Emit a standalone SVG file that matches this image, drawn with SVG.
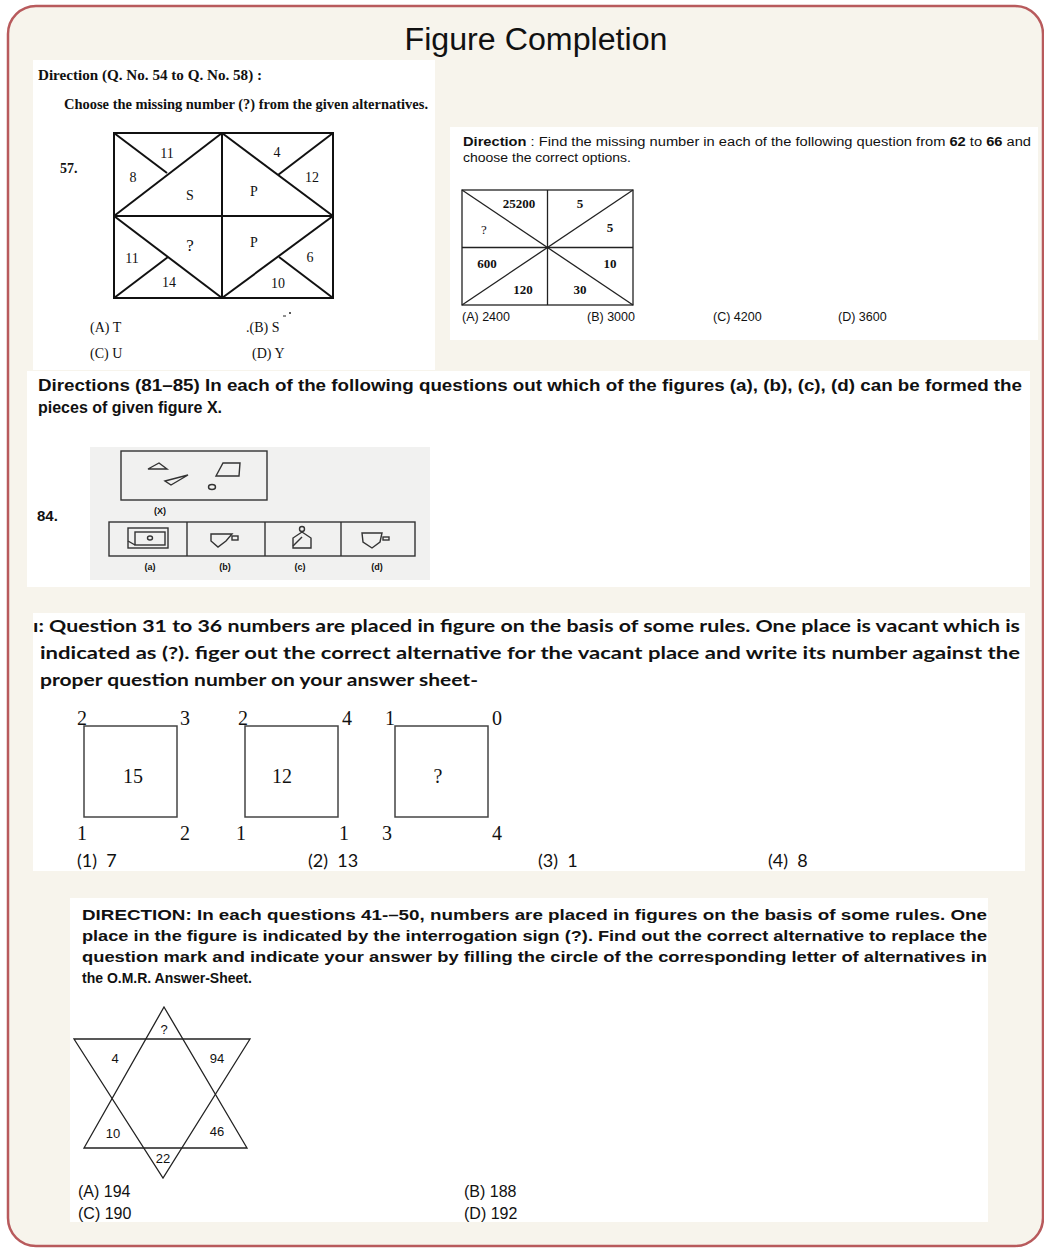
<svg xmlns="http://www.w3.org/2000/svg" width="1044" height="1249" viewBox="0 0 1044 1249">
<style>
.panel{fill:#ffffff}
.ser{font-family:"Liberation Serif","DejaVu Serif",serif;fill:#111}
.serb{font-family:"Liberation Serif","DejaVu Serif",serif;font-weight:bold;fill:#111}
.sans{font-family:"Liberation Sans",Arial,sans-serif;fill:#111}
.sansb{font-family:"Liberation Sans",Arial,sans-serif;font-weight:bold;fill:#111}
.cal{font-family:Lato,"Open Sans",sans-serif;fill:#111}
.calb{font-family:Lato,"Open Sans",sans-serif;font-weight:bold;fill:#111}
.ln{stroke:#111;stroke-width:2;fill:none}
.ln1{stroke:#222;stroke-width:1.3;fill:none}
.sq{stroke:#444;stroke-width:1.5;fill:none}
.scan{stroke:#333;stroke-width:1.4;fill:none}
.mid{text-anchor:middle}
</style>
<rect x="8" y="6" width="1035" height="1240" rx="28" ry="28" fill="#f7f4ec" stroke="#b85a5c" stroke-width="2.5"/>
<text class="sans mid" x="536" y="50" font-size="31" textLength="263" lengthAdjust="spacingAndGlyphs">Figure Completion</text>

<!-- Panel: Q57 -->
<g id="q57">
<rect class="panel" x="33" y="60" width="402" height="310"/>
<text class="serb" x="38" y="80" font-size="14.5" textLength="224" lengthAdjust="spacingAndGlyphs">Direction (Q. No. 54  to Q. No. 58) :</text>
<text class="serb" x="64" y="109" font-size="14.5" textLength="364" lengthAdjust="spacingAndGlyphs">Choose the missing number (?) from the given alternatives.</text>
<text class="serb" x="60" y="173" font-size="14">57.</text>
<rect class="ln" x="114" y="133" width="219" height="165"/>
<line class="ln" x1="222" y1="133" x2="222" y2="298"/>
<line class="ln" x1="114" y1="216" x2="333" y2="216"/>
<line class="ln" x1="114" y1="216" x2="222" y2="133"/>
<line class="ln" x1="114" y1="133" x2="167" y2="173"/>
<line class="ln" x1="222" y1="133" x2="333" y2="216"/>
<line class="ln" x1="333" y1="133" x2="278" y2="175"/>
<line class="ln" x1="114" y1="216" x2="222" y2="298"/>
<line class="ln" x1="114" y1="298" x2="168" y2="257"/>
<line class="ln" x1="222" y1="298" x2="333" y2="216"/>
<line class="ln" x1="333" y1="298" x2="279" y2="257"/>
<g class="ser mid" font-size="14">
<text x="167" y="158">11</text>
<text x="133" y="182">8</text>
<text x="190" y="200">S</text>
<text x="277" y="157">4</text>
<text x="312" y="182">12</text>
<text x="254" y="196">P</text>
<text x="190" y="251" font-size="17">?</text>
<text x="254" y="247">P</text>
<text x="132" y="263">11</text>
<text x="169" y="287">14</text>
<text x="278" y="288">10</text>
<text x="310" y="262">6</text>
</g>
<text class="ser" x="90" y="332" font-size="14">(A) T</text>
<text class="ser" x="246" y="332" font-size="14">.(B) S</text>
<line x1="283" y1="316" x2="286" y2="316" stroke="#222" stroke-width="1"/>
<circle cx="290" cy="313" r="1" fill="#222"/>
<text class="ser" x="90" y="358" font-size="14">(C) U</text>
<text class="ser" x="252" y="358" font-size="14">(D) Y</text>
</g>

<!-- Panel: Q62-66 -->
<g id="q62">
<rect class="panel" x="450" y="127" width="588" height="213"/>
<text class="sans" x="463" y="146" font-size="12.5" textLength="568" lengthAdjust="spacingAndGlyphs"><tspan font-weight="bold">Direction</tspan> : Find the missing number in each of the following question from <tspan font-weight="bold">62</tspan> to <tspan font-weight="bold">66</tspan> and</text>
<text class="sans" x="463" y="162" font-size="12.5" textLength="168" lengthAdjust="spacingAndGlyphs">choose the correct options.</text>
<rect class="ln1" x="462" y="190" width="171" height="115"/>
<line class="ln1" x1="547.5" y1="190" x2="547.5" y2="305"/>
<line class="ln1" x1="462" y1="247.5" x2="633" y2="247.5"/>
<line class="ln1" x1="462" y1="190" x2="633" y2="305"/>
<line class="ln1" x1="462" y1="305" x2="633" y2="190"/>
<g class="serb mid" font-size="13">
<text x="519" y="208">25200</text>
<text x="580" y="208">5</text>
<text x="484" y="234" font-weight="normal">?</text>
<text x="610" y="232">5</text>
<text x="487" y="268">600</text>
<text x="610" y="268">10</text>
<text x="523" y="294">120</text>
<text x="580" y="294">30</text>
</g>
<text class="sans" x="462" y="321" font-size="12.5">(A) 2400</text>
<text class="sans" x="587" y="321" font-size="12.5">(B) 3000</text>
<text class="sans" x="713" y="321" font-size="12.5">(C) 4200</text>
<text class="sans" x="838" y="321" font-size="12.5">(D) 3600</text>
</g>

<!-- Panel: Q84 -->
<g id="q84">
<rect class="panel" x="27" y="371" width="1003" height="216"/>
<text class="sansb" x="38" y="391" font-size="16" textLength="984" lengthAdjust="spacingAndGlyphs">Directions (81–85) In each of the following questions out which of the figures (a), (b), (c), (d) can be formed the</text>
<text class="sansb" x="38" y="413" font-size="16">pieces of given figure X.</text>
<text class="sansb" x="37" y="521" font-size="15">84.</text>
<rect x="90" y="447" width="340" height="133" fill="#f1f1f0"/>
<rect class="scan" x="121" y="451" width="146" height="49"/>
<polygon class="scan" points="148,469 159,463 167,469"/>
<polygon class="scan" points="216,476 223,463 240,463 239,476"/>
<polygon class="scan" points="165,481 188,475 171,485"/>
<ellipse class="scan" cx="212" cy="487" rx="3.5" ry="2.5"/>
<text class="sansb mid" x="160" y="514" font-size="9" fill="#333">(X)</text>
<rect class="scan" x="109" y="522" width="306" height="34"/>
<line class="scan" x1="187" y1="522" x2="187" y2="556"/>
<line class="scan" x1="265" y1="522" x2="265" y2="556"/>
<line class="scan" x1="341" y1="522" x2="341" y2="556"/>
<rect class="scan" x="128" y="528" width="40" height="20"/>
<rect class="scan" x="135" y="532" width="30" height="13"/>
<ellipse class="scan" cx="150" cy="538" rx="2.5" ry="2"/>
<line class="scan" x1="128" y1="541" x2="135" y2="545"/>
<polygon class="scan" points="211,534 232,534 226,541 218,547 211,541"/>
<rect class="scan" x="232" y="536" width="6" height="4"/>
<circle class="scan" cx="302" cy="529" r="2.5"/>
<polygon class="scan" points="293,548 293,538 302,532 311,538 311,548"/>
<line class="scan" x1="293" y1="546" x2="302" y2="537"/>
<polygon class="scan" points="362,533 382,533 380,542 372,548 363,542"/>
<rect class="scan" x="383" y="537" width="6" height="3"/>
<g class="sansb mid" font-size="9" fill="#333">
<text x="150" y="570">(a)</text>
<text x="225" y="570">(b)</text>
<text x="300" y="570">(c)</text>
<text x="377" y="570">(d)</text>
</g>
</g>

<!-- Panel: Q31-36 -->
<g id="q31">
<rect class="panel" x="33" y="613" width="992" height="258"/>
<text class="calb" x="33" y="632" font-size="17" textLength="987" lengthAdjust="spacingAndGlyphs">ı: Question 31 to 36 numbers are placed in figure on the basis of some rules. One place is vacant which is</text>
<text class="calb" x="40" y="659" font-size="17" textLength="980" lengthAdjust="spacingAndGlyphs">indicated as (?). figer out the correct alternative for the vacant place and write its number against the</text>
<text class="calb" x="40" y="686" font-size="17" textLength="438" lengthAdjust="spacingAndGlyphs">proper question number on your answer sheet-</text>
<rect class="sq" x="84" y="726" width="93" height="91"/>
<rect class="sq" x="245" y="726" width="93" height="91"/>
<rect class="sq" x="395" y="726" width="93" height="91"/>
<g class="ser mid" font-size="20">
<text x="82" y="725">2</text>
<text x="185" y="725">3</text>
<text x="82" y="840">1</text>
<text x="185" y="840">2</text>
<text x="243" y="725">2</text>
<text x="347" y="725">4</text>
<text x="241" y="840">1</text>
<text x="344" y="840">1</text>
<text x="390" y="725">1</text>
<text x="497" y="725">0</text>
<text x="387" y="840">3</text>
<text x="497" y="840">4</text>
<text x="133" y="783">15</text>
<text x="282" y="783">12</text>
<text x="438" y="783">?</text>
</g>
<text class="cal" x="77" y="867" font-size="18" xml:space="preserve">(1)  7</text>
<text class="cal" x="308" y="867" font-size="18" xml:space="preserve">(2)  13</text>
<text class="cal" x="538" y="867" font-size="18" xml:space="preserve">(3)  1</text>
<text class="cal" x="768" y="867" font-size="18" xml:space="preserve">(4)  8</text>
</g>

<!-- Panel: Q41-50 -->
<g id="q41">
<rect class="panel" x="70" y="898" width="918" height="324"/>
<g class="sansb" font-size="14" fill="#333">
<text x="82" y="920" textLength="905" lengthAdjust="spacingAndGlyphs">DIRECTION: In each questions 41-–50, numbers are placed in figures on the basis of some rules. One</text>
<text x="82" y="941" textLength="905" lengthAdjust="spacingAndGlyphs">place in the figure is indicated by the interrogation sign (?). Find out the correct alternative to replace the</text>
<text x="82" y="962" textLength="905" lengthAdjust="spacingAndGlyphs">question mark and indicate your answer by filling the circle of the corresponding letter of alternatives in</text>
<text x="82" y="983">the O.M.R. Answer-Sheet.</text>
</g>
<polygon class="ln1" points="164,1007 247,1148 84,1148"/>
<polygon class="ln1" points="74,1039 250,1039 163,1178"/>
<g class="sans mid" font-size="13" fill="#333">
<text x="164" y="1034">?</text>
<text x="115" y="1063">4</text>
<text x="217" y="1063">94</text>
<text x="113" y="1138">10</text>
<text x="217" y="1136">46</text>
<text x="163" y="1163">22</text>
</g>
<g class="sans" font-size="16" fill="#222">
<text x="78" y="1197">(A) 194</text>
<text x="78" y="1219">(C) 190</text>
<text x="464" y="1197">(B) 188</text>
<text x="464" y="1219">(D) 192</text>
</g>
</g>
</svg>
